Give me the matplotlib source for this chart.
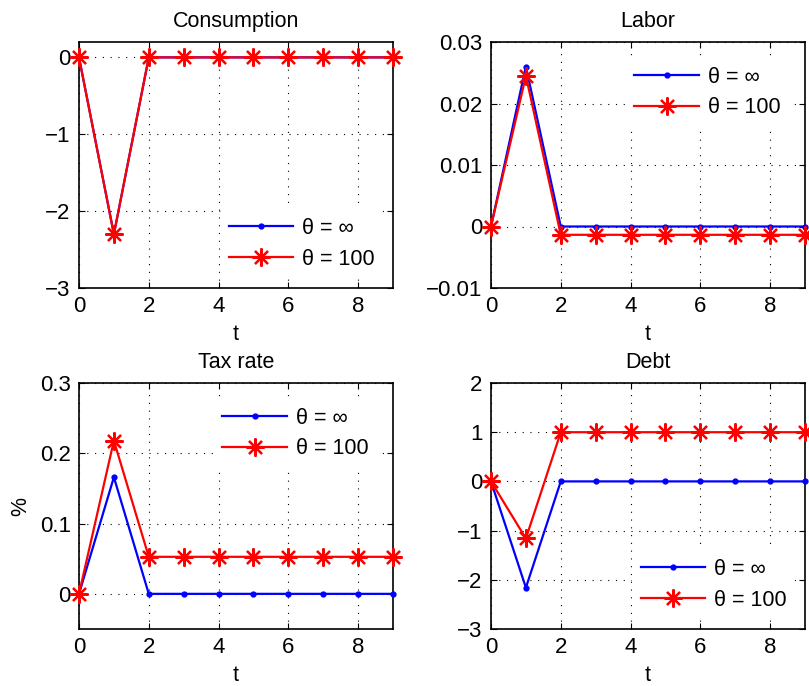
import matplotlib
matplotlib.use('Agg')
import matplotlib.pyplot as plt
import numpy as np

plt.rcParams['font.family'] = ['Liberation Sans', 'DejaVu Sans']
plt.rcParams['font.size'] = 16

t = np.arange(10)

# impulse responses, theta = inf (blue) and theta = 100 (red)
cons_inf = [0, -2.3, 0, 0, 0, 0, 0, 0, 0, 0]
cons_100 = [0, -2.3, 0, 0, 0, 0, 0, 0, 0, 0]
labor_inf = [0, 0.026, 0, 0, 0, 0, 0, 0, 0, 0]
labor_100 = [0, 0.0245, -0.00135, -0.00135, -0.00135, -0.00135, -0.00135, -0.00135, -0.00135, -0.00135]
tax_inf = [0, 0.166, 0, 0, 0, 0, 0, 0, 0, 0]
tax_100 = [0, 0.218, 0.0527, 0.0527, 0.0527, 0.0527, 0.0527, 0.0527, 0.0527, 0.0527]
debt_inf = [0, -2.16, 0, 0, 0, 0, 0, 0, 0, 0]
debt_100 = [0, -1.16, 1, 1, 1, 1, 1, 1, 1, 1]

titles = ['Consumption', 'Labor', 'Tax rate', 'Debt']
ylims = [(-3, 0.2), (-0.01, 0.03), (-0.05, 0.3), (-3, 2)]
yticks = [[-3, -2, -1, 0], [-0.01, 0, 0.01, 0.02, 0.03], [0, 0.1, 0.2, 0.3], [-3, -2, -1, 0, 1, 2]]
ytlabels = [['\u22123', '\u22122', '\u22121', '0'],
            ['\u22120.01', '0', '0.01', '0.02', '0.03'],
            ['0', '0.1', '0.2', '0.3'],
            ['\u22123', '\u22122', '\u22121', '0', '1', '2']]
leg_loc = ['lower right', 'upper right', 'upper right', 'lower right']
series = [(cons_inf, cons_100), (labor_inf, labor_100), (tax_inf, tax_100), (debt_inf, debt_100)]

fig = plt.figure(figsize=(8.09, 6.86), dpi=100)
W, H = 809., 686.
boxes = [(79, 42, 393, 288), (491, 42, 805, 288), (79, 383, 393, 629), (491, 383, 805, 629)]

for i in range(4):
    x0, y0, x1, y1 = boxes[i]
    ax = fig.add_axes([x0 / W, 1 - y1 / H, (x1 - x0) / W, (y1 - y0) / H])
    a, b = series[i]
    ax.plot(t, a, color='blue', lw=1.6, marker='.', ms=7, label='\u03b8 = \u221e', clip_on=False, zorder=3)
    ax.plot(t, b, color='red', lw=1.6, marker=(8, 2, 0), ms=13, mew=1.6, label='\u03b8 = 100', clip_on=False, zorder=4)
    ax.set_xlim(0, 9)
    ax.set_ylim(*ylims[i])
    ax.set_xticks([0, 2, 4, 6, 8])
    ax.set_yticks(yticks[i])
    ax.set_yticklabels(ytlabels[i])
    ax.grid(True, color='black', linestyle=(0, (1, 6)), linewidth=0.8)
    ax.tick_params(direction='in', length=4, width=0.8, top=True, right=True, pad=6, labelsize=16)
    for s in ax.spines.values():
        s.set_linewidth(1.2)
    ax.set_title(titles[i], fontsize=15.5, pad=11)
    ax.set_xlabel('t', fontsize=15.5, labelpad=5)
    if i == 2:
        ax.set_ylabel('%', fontsize=15.5, labelpad=6)
    pad = 0.75 if leg_loc[i] == 'upper right' else 0.45
    leg = ax.legend(loc=leg_loc[i], frameon=True, handlelength=3.0, fontsize=15.5,
                    borderaxespad=pad, labelspacing=0.45, handletextpad=0.4)
    leg.get_frame().set_edgecolor('none')
    leg.get_frame().set_facecolor('white')
    leg.get_frame().set_alpha(1)

fig.savefig('out.png', dpi=100)
